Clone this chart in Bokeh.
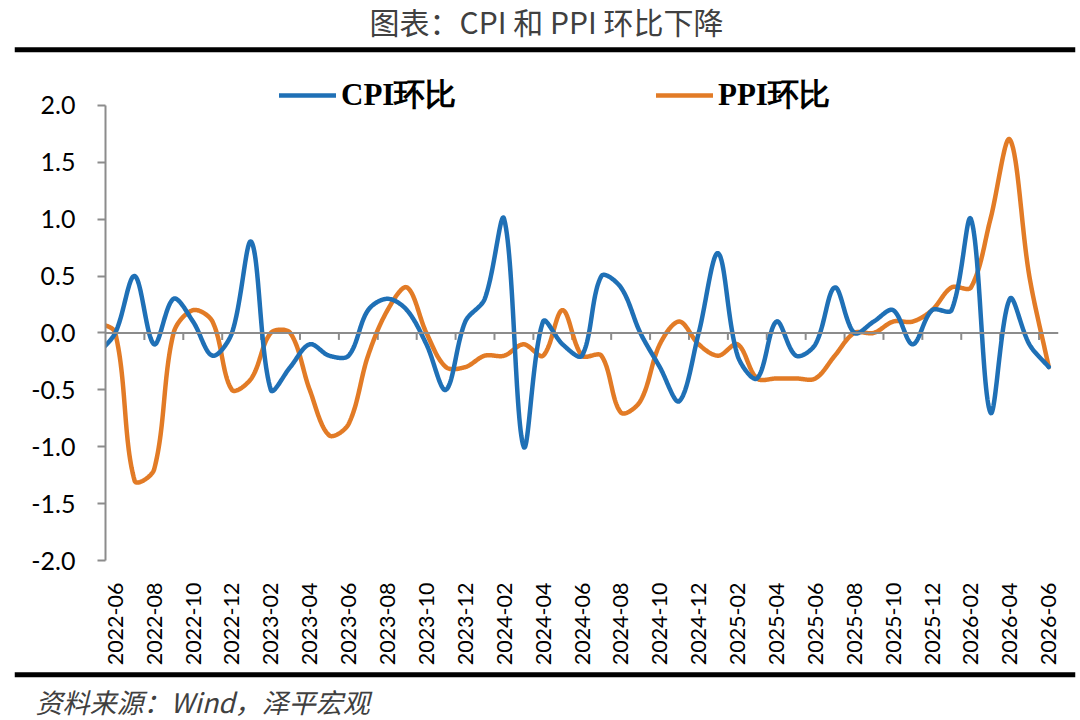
import numpy as np
from bokeh.plotting import figure
from bokeh.layouts import column
from bokeh.models import (Range1d, FixedTicker, PrintfTickFormatter, Span, Label,
                          BoxAnnotation, Legend, LegendItem)
from bokeh.embed import file_html
from bokeh.resources import INLINE

# ---- data (first month 2022-05 is only partly visible at the axis) ----
months = ["2022-05", "2022-06", "2022-07", "2022-08", "2022-09", "2022-10", "2022-11", "2022-12",
          "2023-01", "2023-02", "2023-03", "2023-04", "2023-05", "2023-06",
          "2023-07", "2023-08", "2023-09", "2023-10", "2023-11", "2023-12",
          "2024-01", "2024-02", "2024-03", "2024-04", "2024-05", "2024-06",
          "2024-07", "2024-08", "2024-09", "2024-10", "2024-11", "2024-12",
          "2025-01", "2025-02", "2025-03", "2025-04", "2025-05", "2025-06",
          "2025-07", "2025-08", "2025-09", "2025-10", "2025-11", "2025-12",
          "2026-01", "2026-02", "2026-03", "2026-04", "2026-05", "2026-06"]

cpi = [-0.2, 0.0, 0.5, -0.1, 0.3, 0.1, -0.2, 0.0,
       0.8, -0.5, -0.3, -0.1, -0.2, -0.2,
       0.2, 0.3, 0.2, -0.1, -0.5, 0.1,
       0.3, 1.0, -1.0, 0.1, -0.1, -0.2,
       0.5, 0.4, 0.0, -0.3, -0.6, 0.0,
       0.7, -0.2, -0.4, 0.1, -0.2, -0.1,
       0.4, 0.0, 0.1, 0.2, -0.1, 0.2,
       0.2, 1.0, -0.7, 0.3, -0.1, -0.3]

ppi = [0.1, 0.0, -1.3, -1.2, 0.0, 0.2, 0.1, -0.5,
       -0.4, 0.0, 0.0, -0.5, -0.9, -0.8,
       -0.2, 0.2, 0.4, 0.0, -0.3, -0.3,
       -0.2, -0.2, -0.1, -0.2, 0.2, -0.2,
       -0.2, -0.7, -0.6, -0.1, 0.1, -0.1,
       -0.2, -0.1, -0.4, -0.4, -0.4, -0.4,
       -0.2, 0.0, 0.0, 0.1, 0.1, 0.2,
       0.4, 0.4, 1.0, 1.7, 0.5, -0.3]

y_ticks = [-2.0, -1.5, -1.0, -0.5, 0.0, 0.5, 1.0, 1.5, 2.0]
labels = ["CPI环比", "PPI环比"]
title_text = "图表：CPI 和 PPI 环比下降"
source_text = "资料来源：Wind，泽平宏观"

BLUE = "#1F70B6"
ORANGE = "#E27B26"
AXIS = "#8C8C8C"
W = 1080
FW = 953                           # frame width
FH_AXIS = 457                      # pixels from 2.0 to -2.0
EXTRA_TOP = 35                     # room above 2.0 for the legend


def smooth(xv, yv, sx, sy, n=30):
    """Excel-like smoothed line: Bezier arms along the neighbour chord,
    scaled by the adjacent segment lengths measured in screen space."""
    X = np.asarray(xv, float) * sx
    Y = np.asarray(yv, float) * sy
    m = len(X)
    P = np.stack([X, Y], axis=1)
    out = []
    t = np.linspace(0, 1, n, endpoint=False)[:, None]
    for i in range(m - 1):
        p0 = P[max(i - 1, 0)]
        p1, p2 = P[i], P[i + 1]
        p3 = P[min(i + 2, m - 1)]
        d01 = np.linalg.norm(p1 - p0)
        d12 = np.linalg.norm(p2 - p1)
        d23 = np.linalg.norm(p3 - p2)
        a = d12 / (d01 + d12) / 3 if d01 + d12 > 0 else 0
        b = d12 / (d12 + d23) / 3 if d12 + d23 > 0 else 0
        b1 = p1 + (p2 - p0) * a
        b2 = p2 - (p3 - p1) * b
        seg = (1 - t) ** 3 * p1 + 3 * (1 - t) ** 2 * t * b1 + 3 * (1 - t) * t ** 2 * b2 + t ** 3 * p2
        out.append(seg)
    out.append(P[-1:])
    pts = np.concatenate(out)
    return list(pts[:, 0] / sx), list(pts[:, 1] / sy)


def band(height):
    f = figure(width=W, height=height, min_border_left=14, min_border_right=5,
               min_border_top=0, min_border_bottom=0, x_axis_location=None, y_axis_location=None,
               x_range=Range1d(0, 1), y_range=Range1d(0, 1),
               output_backend="svg", toolbar_location=None)
    f.frame_align = False
    f.outline_line_color = None
    f.xgrid.visible = False
    f.ygrid.visible = False
    return f


def rule(f, bottom):
    f.add_layout(BoxAnnotation(left=0, right=W - 19, bottom=bottom, top=bottom + 5,
                               left_units="screen", right_units="screen",
                               bottom_units="screen", top_units="screen",
                               fill_color="black", fill_alpha=1, line_color=None))


# ---- header ----
head = band(60)
head.add_layout(Label(x=532, y=40, x_units="screen", y_units="screen", text=title_text,
                      text_align="center", text_baseline="middle", text_font="Noto Sans CJK SC",
                      text_font_size="30px", text_color="#404040"))
rule(head, 8.3)

# ---- main chart ----
upp = (y_ticks[-1] - y_ticks[0]) / FH_AXIS
idx = np.arange(len(months))
MAIN_H = 10 + FH_AXIS + EXTRA_TOP + 106

p = figure(width=W, height=MAIN_H,
           min_border_left=105, min_border_right=W - 105 - FW,
           min_border_top=10, min_border_bottom=106,
           x_range=Range1d(0.5, len(months) - 0.5),
           y_range=Range1d(y_ticks[0], y_ticks[-1] + EXTRA_TOP * upp),
           output_backend="svg", toolbar_location=None)
p.frame_align = False
p.outline_line_color = None
p.xgrid.visible = False
p.ygrid.visible = False

ya = p.yaxis[0]
ya.bounds = (y_ticks[0], y_ticks[-1])
ya.ticker = FixedTicker(ticks=y_ticks)
ya.formatter = PrintfTickFormatter(format="%.1f")
ya.axis_line_color = AXIS
ya.axis_line_width = 2
ya.major_tick_line_color = AXIS
ya.major_tick_line_width = 2
ya.major_tick_out = 8
ya.major_tick_in = 0
ya.minor_tick_line_color = None
ya.major_label_standoff = 22
ya.major_label_text_font = "Lato"
ya.major_label_text_font_size = "25px"
ya.major_label_text_color = "black"

xa = p.xaxis[0]
label_idx = [int(i) for i in idx if int(months[i][-2:]) % 2 == 0]
xa.ticker = FixedTicker(ticks=label_idx)
xa.major_label_overrides = {i: months[i] for i in label_idx}
xa.major_label_orientation = np.pi / 2
xa.axis_line_color = None
xa.major_tick_line_color = None
xa.minor_tick_line_color = None
xa.major_label_standoff = 16
xa.major_label_text_font = "Lato"
xa.major_label_text_font_size = "21.5px"
xa.major_label_text_color = "black"

p.add_layout(Span(location=0, dimension="width", line_color=AXIS, line_width=2))
bounds = [i - 0.5 for i in label_idx[1:]]
tick_len = 7 * upp
p.segment(x0=bounds, y0=[0] * len(bounds), x1=bounds, y1=[-tick_len] * len(bounds),
          line_color=AXIS, line_width=2)

sx = FW / len(months)
sy = FH_AXIS / (y_ticks[-1] - y_ticks[0])
cx, cy = smooth(idx, cpi, sx, sy)
px_, py_ = smooth(idx, ppi, sx, sy)
r_ppi = p.line(px_, py_, line_color=ORANGE, line_width=4.5, line_join="round", line_cap="round")
r_cpi = p.line(cx, cy, line_color=BLUE, line_width=4.5, line_join="round", line_cap="round")

for lab, r, loc in ((labels[0], r_cpi, (174, 444)), (labels[1], r_ppi, (551, 444))):
    lg = Legend(items=[LegendItem(label=lab, renderers=[r])], location=loc,
                orientation="horizontal", padding=0, margin=0, spacing=0,
                glyph_width=57, glyph_height=30, label_height=30, label_standoff=5,
                label_text_font="Liberation Serif", label_text_font_style="bold",
                label_text_font_size="31px", label_text_color="black",
                border_line_color=None, background_fill_alpha=0)
    p.add_layout(lg)

# ---- footer ----
foot = band(720 - 60 - MAIN_H)
rule(foot, 43.3)
foot.add_layout(Label(x=21, y=19, x_units="screen", y_units="screen", text=source_text,
                      text_align="left", text_baseline="middle", text_font="Noto Sans CJK SC",
                      text_font_style="italic", text_font_size="27px", text_color="#404040"))

layout = column(head, p, foot, spacing=0)
open("out.html", "w").write(file_html(layout, INLINE))
